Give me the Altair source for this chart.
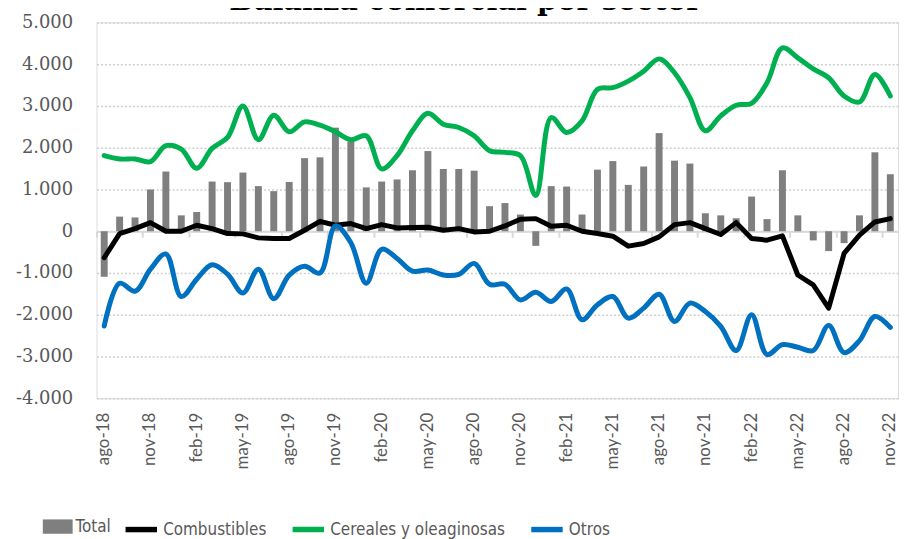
import altair as alt
import pandas as pd

meses = [
    "ago-18", "sep-18", "oct-18", "nov-18", "dic-18",
    "ene-19", "feb-19", "mar-19", "abr-19", "may-19", "jun-19", "jul-19", "ago-19", "sep-19", "oct-19", "nov-19", "dic-19",
    "ene-20", "feb-20", "mar-20", "abr-20", "may-20", "jun-20", "jul-20", "ago-20", "sep-20", "oct-20", "nov-20", "dic-20",
    "ene-21", "feb-21", "mar-21", "abr-21", "may-21", "jun-21", "jul-21", "ago-21", "sep-21", "oct-21", "nov-21", "dic-21",
    "ene-22", "feb-22", "mar-22", "abr-22", "may-22", "jun-22", "jul-22", "ago-22", "sep-22", "oct-22", "nov-22",
]

total = [-1090, 350, 330, 1000, 1430, 380, 460, 1190, 1175, 1405, 1080, 960, 1180,
         1750, 1770, 2480, 2140, 1050, 1190, 1240, 1460, 1920, 1490, 1490, 1450, 600,
         675, 400, -350, 1080, 1070, 400, 1475, 1680, 1110, 1550, 2350, 1690, 1620,
         430, 380, 310, 830, 290, 1460, 380, -220, -475, -285, 380, 1890, 1365]

combustibles = [-635, -56, 63, 206, 0, 0, 143, 63, -56, -63, -159, -175, -175,
                24, 238, 143, 183, 63, 159, 79, 87, 95, 24, 63, -16, 0,
                127, 286, 302, 119, 143, 0, -56, -119, -357, -294, -135, 159, 206,
                63, -79, 206, -175, -214, -111, -1048, -1286, -1841, -532, -95, 222, 302]

cereales = [1810, 1730, 1730, 1667, 2048, 1968, 1508, 1984, 2246, 3000, 2190, 2778, 2380,
            2619, 2540, 2381, 2190, 2286, 1492, 1810, 2405, 2825, 2563, 2484, 2286, 1930,
            1889, 1810, 857, 2722, 2365, 2643, 3397, 3437, 3595, 3833, 4127, 3794, 3200,
            2405, 2762, 3016, 3063, 3556, 4389, 4151, 3889, 3675, 3238, 3095, 3754, 3238]

otros = [-2270, -1246, -1437, -909, -544, -1564, -1147, -802, -1028, -1477, -909, -1615, -1050,
         -838, -1000, 130, -274, -1246, -432, -651, -956, -929, -1048, -1032, -770, -1270,
         -1270, -1643, -1460, -1683, -1381, -2119, -1762, -1563, -2079, -1841, -1508, -2159, -1722,
         -1921, -2278, -2857, -2000, -2952, -2714, -2778, -2857, -2254, -2905, -2619, -2040, -2302]

series = ["Combustibles", "Cereales y oleaginosas", "Otros"]
series_colors = ["#000000", "#00B050", "#0070C0"]
y_ticks = [-4000, -3000, -2000, -1000, 0, 1000, 2000, 3000, 4000, 5000]
x_label_values = meses[::3]

df = pd.DataFrame({
    "mes": meses,
    "Total": total,
    "Combustibles": combustibles,
    "Cereales y oleaginosas": cereales,
    "Otros": otros,
})

W, H = 806, 378
zero_offset = -round(H * 4000 / 9000)

xscale = alt.Scale(paddingInner=0, paddingOuter=0)
yscale = alt.Scale(domain=[-4000, 5000], nice=False, zero=False)

y_axis = alt.Axis(
    values=y_ticks,
    labelExpr="datum.value == 0 ? '0' : (datum.value < 0 ? '-' : '') + format(abs(datum.value) / 1000, 'd') + '.000'",
    labelFont="DejaVu Serif", labelFontSize=18, labelColor="#595959", labelPadding=24,
    ticks=False, domain=False, grid=True, gridColor="#cfcfcf", gridDash=[2, 2], gridWidth=1.5,
)

legend_font = "DejaVu Sans Condensed, Liberation Sans Narrow, Roboto Condensed, Roboto, sans-serif"
LEG_Y = 491

base = alt.Chart(df)

bars = base.transform_calculate(serie="'Total'").mark_bar(
    width=alt.RelativeBandSize(0.45)
).encode(
    x=alt.X("mes:N", sort=meses, scale=xscale, title=None,
            axis=alt.Axis(values=x_label_values, orient="bottom", offset=zero_offset,
                          labels=False, ticks=True, bandPosition=0, tickSize=6, tickWidth=2,
                          tickColor="#d9d9d9", domain=True, domainColor="#d9d9d9",
                          domainWidth=2, grid=False)),
    y=alt.Y("Total:Q", scale=yscale, axis=y_axis, title=None),
    fill=alt.Fill("serie:N", scale=alt.Scale(domain=["Total"], range=["#7f7f7f"]),
                  legend=alt.Legend(orient="none", legendX=-54, legendY=LEG_Y + 1, title=None,
                                    symbolType="M-1,-0.48L1,-0.48L1,0.48L-1,0.48Z", symbolSize=900,
                                    symbolStrokeWidth=0, labelFont=legend_font, labelFontSize=17,
                                    labelColor="#595959", labelOffset=3, padding=0, labelLimit=0)),
)

stroke_enc = alt.Stroke(
    "serie:N", scale=alt.Scale(domain=series, range=series_colors),
    legend=alt.Legend(orient="none", legendX=26, legendY=LEG_Y, title=None, direction="horizontal",
                      symbolType="stroke", symbolSize=1000, symbolStrokeWidth=5.5,
                      labelFont=legend_font, labelFontSize=17, labelColor="#595959",
                      labelOffset=3, columnPadding=15, padding=0, labelLimit=0),
)

line_black = base.transform_fold(["Combustibles"], as_=["serie", "valor"]).mark_line(
    strokeWidth=5, strokeJoin="round", strokeCap="round"
).encode(
    x=alt.X("mes:N", sort=meses, scale=xscale, title=None,
            axis=alt.Axis(values=x_label_values, orient="bottom", labelAngle=-90,
                          labelFont="Lato", labelFontSize=17, labelColor="#595959",
                          labelPadding=14, ticks=False, domain=False, grid=False)),
    y=alt.Y("valor:Q", scale=yscale, axis=y_axis, title=None),
    stroke=stroke_enc,
)

line_smooth = base.transform_fold(["Cereales y oleaginosas", "Otros"], as_=["serie", "valor"]).mark_line(
    strokeWidth=5, strokeJoin="round", strokeCap="round", interpolate="catmull-rom"
).encode(
    x=alt.X("mes:N", sort=meses, scale=xscale, title=None, axis=None),
    y=alt.Y("valor:Q", scale=yscale, axis=y_axis, title=None),
    stroke=stroke_enc,
)

chart = alt.layer(bars, line_black, line_smooth).resolve_axis(x="independent").properties(
    width=W, height=H,
    padding={"left": 89, "top": 13, "right": 3, "bottom": 140},
    autosize=alt.AutoSizeParams(type="none"),
    title=alt.TitleParams("Balanza comercial por sector", font="DejaVu Serif", fontSize=29,
                          fontWeight="bold", color="#000000", anchor="middle", dx=-32, dy=5, offset=2),
).configure_view(stroke=None).configure_legend(
    symbolStrokeWidth=5.5
).configure(background="white")

chart.save("out.html", embed_options={"renderer": "svg", "actions": False})
